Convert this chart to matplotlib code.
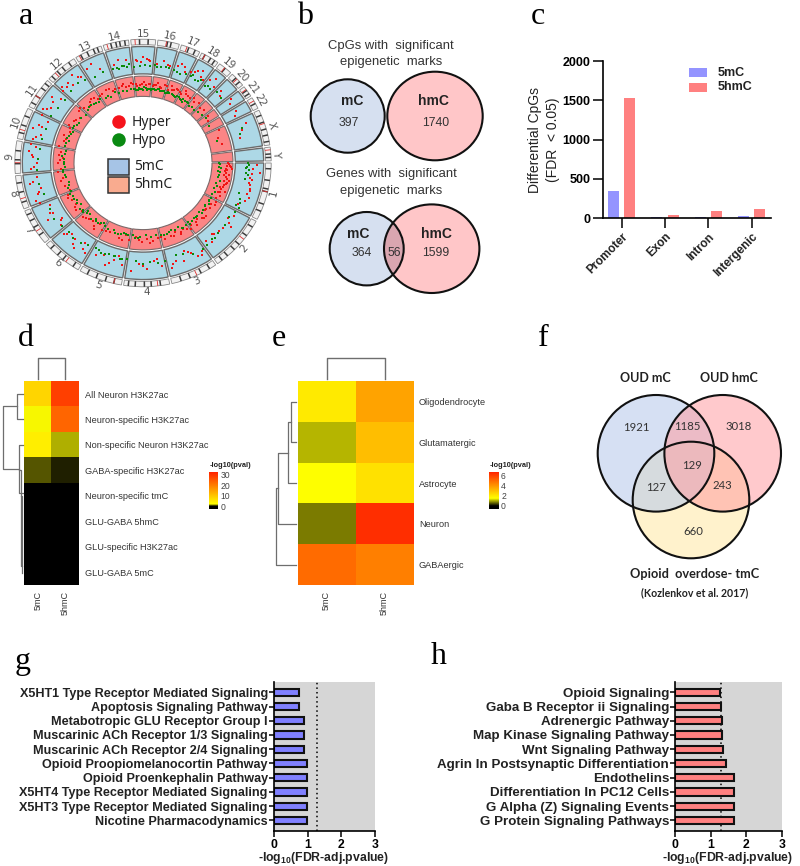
import numpy as np
import matplotlib
matplotlib.use("Agg")
import matplotlib.pyplot as plt
from matplotlib.colors import LinearSegmentedColormap, Normalize
from matplotlib.cm import ScalarMappable
from matplotlib.patches import Ellipse, Rectangle

plt.rcParams['font.family'] = ['Liberation Sans', 'DejaVu Sans']
plt.rcParams['mathtext.fontset'] = 'custom'
plt.rcParams['mathtext.bf'] = 'Liberation Sans:bold'
plt.rcParams['mathtext.rm'] = 'Liberation Sans:bold'

# panel a: circos
chrom_names = ['1','2','3','4','5','6','7','8','9','10','11','12','13','14','15','16','17','18','19','20','21','22','X','Y']
chrom_mb = [249,243,198,191,181,171,159,146,141,136,135,134,115,107,103,90,81,78,59,63,48,51,155,59]
cyto_dark = [[.1,.3,.45,.5,.72,.85],[.12,.3,.5,.62,.78,.9],[.15,.35,.6,.8],[.2,.4,.55,.75,.9],[.18,.38,.6,.82],
             [.15,.45,.62,.85],[.25,.5,.7,.88],[.2,.5,.78],[.3,.42,.7],[.2,.45,.75],[.15,.4,.7,.88],[.12,.35,.55,.8],
             [.2,.45,.7,.85],[.3,.5,.65,.85],[.35,.7],[.45,.62],[.4,.75],[.2,.55,.8],[.5],[.35,.7],[.4,.75],[.55],
             [.15,.35,.55,.72,.9],[.5,.75]]
cen_pos = [.5,.38,.45,.26,.18,.36,.38,.31,.33,.3,.4,.27,.14,.15,.17,.4,.3,.2,.45,.45,.3,.3,.39,.2]

mc_hyper_t = [1,3,5,8,12,15,17,19,21,24,31,34,37,40,43,47,50,52,57,60,63,66,68,72,75,80,84,88,92,96,101,104,108,112,116,
              122,125,128,131,134,137,142,145,148,151,155,160,163,166,169,172,177,180,183,186,189,193,196,198,201,204,
              209,212,215,219,224,226,229,232,235,240,243,246,254,257,261,266,269,272,274,278,281,284,289,291,294,299,302,305,
              308,310,312,316,318,323,325,330,332,338,341,345,
              6,9,11,14,36,46,58,64,74,82,90,106,110,124,130,136,144,150,158,164,170,178,184,190,194,200,206,
              210,217,223,228,234,267,270,273,285,293,297,300,303]
mc_hyper_l = [.75,.62,.88,.55,.6,.66,.58,.7,.6,.42,.5,.35,.62,.45,.4,.3,.52,.38,.58,.65,.45,.28,.6,.5,.72,.55,.35,.62,.45,.7,.55,.25,.6,.38,.5,
              .62,.3,.7,.42,.35,.55,.4,.22,.68,.5,.36,.75,.6,.45,.82,.52,.7,.48,.62,.8,.58,.72,.5,.84,.66,.42,
              .78,.55,.64,.45,.72,.6,.5,.8,.56,.7,.82,.5,.46,.62,.55,.5,.42,.55,.48,.38,.55,.44,.5,.6,.4,.55,.72,.45,
              .6,.75,.5,.55,.42,.65,.5,.55,.4,.65,.45,.3,
              .6,.65,.56,.62,.5,.36,.7,.35,.6,.3,.52,.42,.7,.55,.6,.48,.3,.42,.66,.55,.7,.6,.68,.74,.62,.55,.72,
              .66,.75,.6,.68,.62,.48,.6,.5,.42,.55,.48,.62,.5]
mc_hypo_t = [0,2,4,6,9,18,23,26,29,33,38,44,49,53,56,62,67,71,78,82,86,90,94,99,102,106,110,114,118,123,127,132,136,141,147,153,
             162,168,176,182,188,194,200,208,214,220,226,232,236,242,247,253,256,259,262,265,268,271,274,277,280,283,288,292,295,
             298,301,304,308,311,315,319,340,343,
             1,3,7,21,25,47,103,107,112,116,255,258,261,278,285,290,299,303,309]
mc_hypo_l = [.45,.42,.5,.4,.38,.3,.45,.5,.46,.38,.42,.4,.44,.5,.55,.5,.35,.3,.4,.44,.38,.42,.35,.3,.32,.28,.3,.35,.28,.32,.4,.45,.38,.42,.48,.44,
             .42,.5,.48,.45,.4,.42,.38,.4,.36,.34,.42,.46,.4,.32,.36,.35,.3,.34,.38,.25,.28,.32,.3,.34,.3,.36,.3,.26,.32,
             .35,.3,.38,.3,.34,.42,.38,.45,.32,
             .5,.38,.46,.4,.36,.48,.36,.3,.34,.3,.32,.38,.28,.3,.34,.3,.4,.32,.38]
hmc_hyper_t = [1,2,3,5,6,8,10,12,13,15,17,19,22,24,29,32,35,38,41,44,47,50,53,57,60,63,66,70,74,79,83,87,91,95,100,103,107,111,115,
               121,124,127,130,133,137,141,144,148,152,156,159,163,167,171,176,180,184,188,192,196,200,204,208,212,216,220,
               224,228,232,236,240,244,248,253,256,260,263,266,269,272,275,278,280,282,285,288,290,292,295,298,300,303,307,309,312,315,318,323,326,336,341,346,
               0,2,4,4,7,9,11,14,16,18,20,21,26,31,37,43,49,55,62,68,77,85,93,105,118,126,135,146,154,169,174,182,186,198,206,214,
               222,230,234,238,246,250,255,258,262,265,268,271,274,277,279,283,287,291,294,297,301,305]
hmc_hyper_l = [.82,.7,.9,.75,.62,.85,.72,.9,.68,.8,.7,.62,.55,.72,.7,.55,.62,.48,.7,.6,.5,.68,.55,.6,.5,.66,.42,.55,.6,.5,.58,.45,.62,.4,.55,.35,.6,.4,.45,
               .55,.35,.6,.42,.5,.62,.45,.68,.5,.55,.62,.45,.58,.7,.48,.62,.75,.55,.68,.8,.62,.7,.5,.72,.6,.45,.68,
               .62,.5,.7,.55,.62,.7,.52,.6,.72,.55,.66,.5,.6,.55,.65,.6,.72,.55,.68,.5,.75,.6,.7,.55,.8,.65,.72,.6,.7,.55,.65,.6,.45,.7,.5,.6,
               .78,.88,.66,.94,.72,.6,.78,.84,.74,.58,.86,.66,.6,.72,.5,.66,.58,.7,.55,.62,.48,.66,.52,.66,.5,.72,.56,.62,.7,.6,.78,.66,.72,.58,.6,.55,
               .74,.62,.66,.6,.7,.58,.66,.55,.7,.62,.58,.7,.62,.55,.6,.52,.66,.58,.72,.62,.7,.6]
hmc_hypo_t = [0,1,3,4,6,7,9,11,14,16,18,20,23,25,28,30,33,36,39,42,45,48,51,54,56,59,62,65,68,72,76,80,84,88,92,96,98,101,105,109,113,117,
              120,122,126,129,132,135,138,141,143,146,150,154,158,161,165,169,173,177,181,185,189,193,197,201,205,209,213,217,221,
              225,229,233,237,241,245,249,252,255,258,261,264,266,268,270,272,274,277,279,281,283,286,288,290,293,295,298,300,302,305,308,310,313,316,320,324,330,343,
              31,35,41,47,53,60,70,74,94,103,107,111,124,128,137,140,148,152,156,163,171,175,179,183,187,195,199,203,207,211,
              227,231,235,243,263,265,267,269,271,273,275,276,278,280,282,284,287,289,292,294,296,299,301,303,306]
hmc_hypo_l = [.32,.4,.36,.45,.3,.42,.38,.34,.48,.35,.4,.3,.42,.36,.4,.32,.45,.36,.42,.3,.38,.35,.42,.32,.38,.45,.3,.36,.3,.4,.35,.3,.38,.28,.36,.42,.3,.35,.3,.4,.28,.34,
              .3,.22,.35,.28,.4,.3,.25,.38,.45,.3,.35,.42,.4,.5,.35,.45,.55,.42,.5,.6,.45,.52,.42,.48,.38,.45,.35,.4,.32,
              .42,.5,.4,.46,.38,.32,.44,.35,.4,.34,.42,.36,.32,.38,.3,.42,.35,.4,.36,.44,.38,.42,.34,.4,.36,.3,.38,.32,.26,.36,.3,.34,.28,.35,.4,.45,.32,.42,
              .4,.34,.44,.38,.46,.4,.34,.42,.4,.3,.36,.42,.3,.36,.34,.44,.4,.46,.5,.42,.48,.56,.46,.5,.44,.5,.56,.42,.48,.38,
              .46,.44,.38,.42,.38,.34,.4,.36,.44,.34,.38,.32,.4,.36,.44,.38,.34,.42,.38,.32,.4,.34,.42,.36,.4]

# panel b
venn_cpg = [397, 1740]
venn_genes = [364, 56, 1599]

# panel c
regions = ['Promoter', 'Exon', 'Intron', 'Intergenic']
diff_5mc = [350, 15, 15, 35]
diff_5hmc = [1535, 40, 90, 120]

# panel d
d_rows = ['All Neuron H3K27ac', 'Neuron-specific H3K27ac', 'Non-specific Neuron H3K27ac', 'GABA-specific H3K27ac',
          'Neuron-specific tmC', 'GLU-GABA 5hmC', 'GLU-specific H3K27ac', 'GLU-GABA 5mC']
d_5mc = [7.8, 2.0, 4.4, 0.75, 0, 0, 0, 0]
d_5hmc = [28.6, 23.3, 1.45, 0.25, 0.06, 0, 0, 0]

# panel e
e_rows = ['Oligodendrocyte', 'Glutamatergic', 'Astrocyte', 'Neuron', 'GABAergic']
e_5mc = [2.0, 1.08, 1.5, 0.74, 4.9]
e_5hmc = [3.6, 3.0, 2.2, 6.28, 4.43]
col_names = ['5mC', '5hmC']

# panel f
venn_three = [1921, 1185, 3018, 129, 127, 243, 660]

# panels g and h
g_paths = ['X5HT1 Type Receptor Mediated Signaling', 'Apoptosis Signaling Pathway', 'Metabotropic GLU Receptor Group I',
           'Muscarinic ACh Receptor 1/3 Signaling', 'Muscarinic ACh Receptor 2/4 Signaling', 'Opioid Proopiomelanocortin Pathway',
           'Opioid Proenkephalin Pathway', 'X5HT4 Type Receptor Mediated Signaling', 'X5HT3 Type Receptor Mediated Signaling',
           'Nicotine Pharmacodynamics']
g_vals = [0.74, 0.74, 0.88, 0.88, 0.88, 0.97, 0.97, 0.97, 0.97, 0.97]
h_paths = ['Opioid Signaling', 'Gaba B Receptor ii Signaling', 'Adrenergic Pathway', 'Map Kinase Signaling Pathway',
           'Wnt Signaling Pathway', 'Agrin In Postsynaptic Differentiation', 'Endothelins', 'Differentiation In PC12 Cells',
           'G Alpha (Z) Signaling Events', 'G Protein Signaling Pathways']
h_vals = [1.25, 1.28, 1.31, 1.32, 1.33, 1.43, 1.65, 1.65, 1.65, 1.65]

W, H = 800, 866
fig = plt.figure(figsize=(8, 8.66), dpi=100)


def px_axes(x0, y0, x1, y1, **kw):
    # axes from pixel box, y counted from the top
    return fig.add_axes([x0 / W, 1 - y1 / H, (x1 - x0) / W, (y1 - y0) / H], **kw)


# circos ring, slightly squashed like the original
ax = px_axes(-2, 23, 288, 303, projection='polar')
ax.set_aspect('auto')
ax.set_theta_zero_location('E')
ax.set_theta_direction(-1)
ax.set_rlim(0, 145)
ax.axis('off')
deg_per_mb = 336 / sum(chrom_mb)
start = 0
for i, mb in enumerate(chrom_mb):
    w = mb * deg_per_mb
    th = np.radians(start)
    tw = np.radians(w)
    ax.bar(th, 28.4, width=tw, bottom=92.3, align='edge', color='#add8e6', edgecolor='#6b6b6b', lw=1.0)
    ax.bar(th, 21, width=tw, bottom=69, align='edge', color='#fb8585', edgecolor='#7a6a6a', lw=0.8)
    ax.bar(th, 5.6, width=tw, bottom=122.6, align='edge', color='#f2f2f2', edgecolor='#888888', lw=0.6)
    for f in cyto_dark[i]:
        ax.bar(th + tw * f, 5.6, width=np.radians(0.7), bottom=122.6, align='center', color='#3a3a3a', lw=0)
    ax.bar(th + tw * cen_pos[i], 5.6, width=np.radians(0.4), bottom=122.6, align='center', color='#e03030', lw=0)
    mid = start + w / 2
    rot = 270 - mid if mid > 180 else 90 - mid
    ax.text(np.radians(mid), 134, chrom_names[i], ha='center', va='center', rotation=rot,
            rotation_mode='anchor', fontsize=7.5, color='#555555', family='DejaVu Sans')
    start += w + 1


def ring_points(t, l, r0, r1, c):
    ax.scatter(np.radians(t), r0 + np.array(l) * (r1 - r0), s=4, c=c, marker='s', lw=0, zorder=5)


ring_points(mc_hyper_t, mc_hyper_l, 92.3, 120.7, '#f01515')
ring_points(mc_hypo_t, mc_hypo_l, 92.3, 120.7, '#0a8a0a')
ring_points(hmc_hyper_t, hmc_hyper_l, 69, 90, '#f01515')
ring_points(hmc_hypo_t, hmc_hypo_l, 69, 90, '#0a8a0a')

# overlay in pixels for text, venns and dendrograms
ov = fig.add_axes([0, 0, 1, 1], zorder=10)
ov.set_xlim(0, W)
ov.set_ylim(H, 0)
ov.axis('off')
ov.patch.set_alpha(0)

for s, x, y in [('a', 26, 17), ('b', 305, 17), ('c', 538, 17), ('d', 26, 339), ('e', 279, 339), ('f', 543, 339), ('g', 23, 661), ('h', 439, 657)]:
    ov.text(x, y, s, fontsize=23, family='Liberation Serif', ha='center', va='center', color='black')

# circos legend
ov.add_patch(Ellipse((119, 122), 13.5, 13.5, color='#f5131b', lw=0))
ov.add_patch(Ellipse((119, 140), 13.5, 13.5, color='#0a8a12', lw=0))
ov.text(131.5, 122.5, 'Hyper', fontsize=10, va='center', family='Noto Sans', color='#222222')
ov.text(131.5, 140.5, 'Hypo', fontsize=10, va='center', family='Noto Sans', color='#222222')
ov.add_patch(Rectangle((107.7, 158.5), 21.3, 16, fc='#a6c4e6', ec='#333333', lw=1.1))
ov.add_patch(Rectangle((107.7, 176.7), 21.3, 16, fc='#f9ab8f', ec='#333333', lw=1.1))
ov.text(134, 167, '5mC', fontsize=10, va='center', family='Noto Sans', color='#222222')
ov.text(134, 185, '5hmC', fontsize=10, va='center', family='Noto Sans', color='#222222')


def venn_circle(x, y, rx, ry, fc, alpha=1.0, z=1):
    e = Ellipse((x, y), 2 * rx, 2 * ry, fc=fc, ec='none', alpha=alpha, zorder=z)
    ov.add_patch(e)
    ov.add_patch(Ellipse((x, y), 2 * rx, 2 * ry, fc='none', ec='#111111', lw=1.5, zorder=6))
    return e


def label(x, y, s, size=9, bold=False, color='#333333', family=None):
    ov.text(x, y, s, fontsize=size, ha='center', va='center', color=color,
            fontweight='bold' if bold else 'normal', family=family, zorder=7)


# panel b
venn_circle(347.7, 116, 37, 36.7, '#d6e0f0')
venn_circle(435, 116, 47.7, 44.3, '#ffc6c8')
venn_circle(366.7, 248.7, 37, 36.7, '#d6e0f0', z=1)
gene_hmc = venn_circle(431.7, 248.7, 47.7, 44.3, '#ffc6c8', z=2)
# darker lens where the two sets meet
lens = Ellipse((366.7, 248.7), 74, 73.4, fc='#d9a6b0', ec='none', zorder=3)
ov.add_patch(lens)
lens.set_clip_path(gene_hmc)
label(391, 45.7, 'CpGs with  significant', 9.4)
label(391, 62.5, 'epigenetic  marks', 9.4)
label(351.7, 101, 'mC', 10, True, '#222222')
label(433.7, 101, 'hmC', 10, True, '#222222')
label(349, 122.7, str(venn_cpg[0]), 8.8)
label(436, 123.3, str(venn_cpg[1]), 8.8)
label(391.7, 174, 'Genes with  significant', 9.4)
label(391, 190.7, 'epigenetic  marks', 9.4)
label(358.3, 233.7, 'mC', 10, True, '#222222')
label(436, 233.7, 'hmC', 10, True, '#222222')
label(361.3, 253.3, str(venn_genes[0]), 8.8)
label(394.7, 253.3, str(venn_genes[1]), 8.8)
label(436, 253.3, str(venn_genes[2]), 8.8)

# panel c
ax = px_axes(602.7, 61, 771, 218.3)
xs = np.arange(len(regions))
ax.bar(xs - 0.188, diff_5mc, width=0.254, color='#9494ff')
ax.bar(xs + 0.188, diff_5hmc, width=0.254, color='#ff8080')
ax.set_xlim(-0.438, 3.446)
ax.set_ylim(0, 2000)
ax.set_yticks([0, 500, 1000, 1500, 2000])
ax.set_xticks(xs)
ax.set_xticklabels(regions, rotation=45, ha='right', rotation_mode='anchor', fontsize=8.5, fontweight='bold', color='#222222')
for t in ax.get_yticklabels():
    t.set_fontsize(9)
    t.set_fontweight('bold')
ax.tick_params(length=7, width=1.1, pad=2)
ax.spines[['top', 'right']].set_visible(False)
ax.spines[['left', 'bottom']].set_linewidth(1.2)
ov.add_patch(Rectangle((689.3, 68.3), 18, 8.4, color='#9494ff', lw=0))
ov.add_patch(Rectangle((689.3, 83.3), 18, 8.4, color='#ff8080', lw=0))
ov.text(718, 72.5, '5mC', fontsize=9, fontweight='bold', va='center', color='#222222')
ov.text(718, 87.5, '5hmC', fontsize=9, fontweight='bold', va='center', color='#222222')
ov.text(535, 140, 'Differential CpGs', fontsize=10, rotation=90, ha='center', va='center', color='#222222')
ov.text(553.5, 140, '(FDR  < 0.05)', fontsize=10, rotation=90, ha='center', va='center', color='#222222')


# heatmaps
def heat(box, c1, c2, rows, vmin, yellow, vmax, cbar_box, cbar_ticks):
    f = lambda v: (v - vmin) / (vmax - vmin)
    cmap = LinearSegmentedColormap.from_list('hm', [(0, 'black'), (f(0), 'black'), (f(yellow), '#ffff00'), (1, '#ff2000')])
    norm = Normalize(vmin, vmax)
    ax = px_axes(*box)
    ax.imshow(np.array([c1, c2]).T, cmap=cmap, norm=norm, aspect='auto', interpolation='nearest')
    ax.set_xticks([0, 1])
    ax.set_xticklabels(col_names, rotation=90, fontsize=6.5, color='#333333', ha='center', va='top')
    ax.set_yticks(range(len(rows)))
    ax.set_yticklabels(rows, fontsize=6.6, color='#333333')
    ax.yaxis.tick_right()
    ax.tick_params(length=0, pad=4)
    for s in ax.spines.values():
        s.set_visible(False)
    cax = px_axes(*cbar_box)
    cb = fig.colorbar(ScalarMappable(norm=norm, cmap=cmap), cax=cax)
    cb.set_ticks(cbar_ticks)
    cb.ax.tick_params(length=0, labelsize=6.2, pad=1.5, labelcolor='#444444')
    cb.outline.set_visible(False)
    ov.text(cbar_box[0], cbar_box[1] - 6, '-log10(pval)', fontsize=5.3, fontweight='bold', va='center', color='#222222')


heat((24, 381.3, 79, 585), d_5mc, d_5hmc, d_rows, -3, 2, 33, (209.3, 471.7, 218.3, 509.3), [0, 10, 20, 30])
heat((297.7, 381.3, 413.3, 585), e_5mc, e_5hmc, e_rows, -0.65, 1.5, 6.65, (489.3, 471.7, 499, 509.3), [0, 2, 4, 6])

# dendrograms
d_top = [[37.7, 37.7, 65.3, 65.3], [379, 358.3, 358.3, 379]]
e_top = [[326.7, 326.7, 385, 385], [379, 357.7, 357.7, 379]]
for xv, yv in [d_top, e_top]:
    ov.plot(xv, yv, color='#6e6e6e', lw=1.0)
d_left = [([22.7, 17.3, 17.3, 22.7], [394, 394, 419.3, 419.3]),
          ([22.7, 19.3, 19.3, 22.7], [445, 445, 493, 493]),
          ([19.3, 21, 21, 22], [470, 470, 566, 566]),
          ([21, 22.3, 22.3, 22.3], [496, 496, 573, 573]),
          ([17.3, 2.7, 2.7, 19.3], [406, 406, 469.3, 469.3])]
e_left = [([296, 291.3, 291.3, 296], [401.7, 401.7, 442.3, 442.3]),
          ([291.3, 288, 288, 296], [422, 422, 483.3, 483.3]),
          ([288, 278.3, 278.3, 296], [452.7, 452.7, 524, 524]),
          ([278.3, 275.7, 275.7, 296], [488.3, 488.3, 564.7, 564.7])]
for xv, yv in d_left + e_left:
    ov.plot(xv, yv, color='#6e6e6e', lw=0.9)

# panel f
venn_circle(691, 500, 58.3, 58.3, '#fff2cc', z=1)
venn_circle(656, 453.3, 58.3, 58.3, '#bccceb', alpha=0.6, z=2)
venn_circle(722.7, 453.3, 58.3, 58.3, '#ff9ea2', alpha=0.55, z=3)
label(645, 378.3, 'OUD mC', 9, True, '#222222', 'Lato')
label(729, 378.3, 'OUD hmC', 9, True, '#222222', 'Lato')
for v, (x, y) in zip(venn_three, [(636, 427.7), (687.7, 426.7), (738.3, 426.7), (691.7, 465.7), (656, 487.7), (722.7, 485.7), (693.3, 531.7)]):
    label(x, y, str(v), 8.2, False, '#333333', 'Lato')
label(695, 574.3, 'Opioid  overdose- tmC', 9.2, True, '#222222', 'Lato')
label(695, 592.7, '(Kozlenkov et al. 2017)', 7.6, True, '#222222', 'Lato')


# pathway bars
def pathway(box, names, vals, colour, line, label_x, name_size):
    ax = px_axes(*box)
    ax.set_facecolor('#d6d6d6')
    ax.axvline(line, color='black', ls=(0, (1, 2)), lw=1.1, zorder=1)
    ax.barh(range(len(vals)), vals, height=0.5, color=colour, edgecolor='#111111', lw=1.5, zorder=2)
    ax.set_xlim(0, 3)
    ax.set_ylim(9.72, -0.70)
    ax.set_yticks(range(len(vals)))
    ax.set_yticklabels(names, fontsize=name_size, fontweight='bold', color='#222222')
    ax.set_xticks([0, 1, 2, 3])
    for t in ax.get_xticklabels():
        t.set_fontsize(8.8)
        t.set_fontweight('bold')
    ax.tick_params(axis='x', length=4.5, width=1.1, pad=1.5)
    ax.tick_params(axis='y', length=3.5, width=1.1, pad=1)
    ax.spines[['top', 'right']].set_visible(False)
    ax.spines[['left', 'bottom']].set_linewidth(1.2)
    ov.text(label_x, 858, r'-log$_{\mathbf{10}}$(FDR-adj.pvalue)', fontsize=8.8, fontweight='bold', ha='center', va='center', color='#222222')


pathway((274, 682.3, 374.7, 830.7), g_paths, g_vals, '#8080ff', 1.29, 324, 9.1)
pathway((675.3, 682.3, 782, 830.7), h_paths, h_vals, '#ff8080', 1.29, 728, 9.6)

fig.savefig('out.png', dpi=100)
